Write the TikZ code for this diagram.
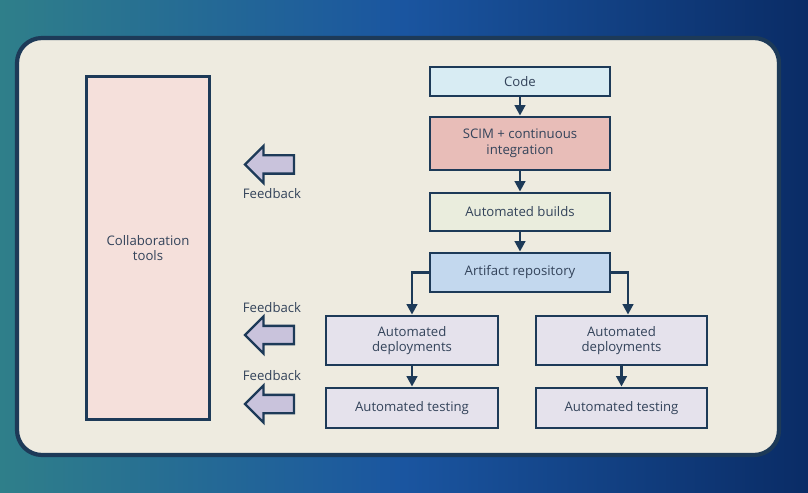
\documentclass[tikz,border=0pt]{standalone}
\usepackage{fontspec}
\setmainfont{Open Sans}
\usetikzlibrary{arrows.meta,shapes.arrows}

\definecolor{bgteal}{HTML}{2F7F8A}
\definecolor{bgblue}{HTML}{1A55A0}
\definecolor{bgnavy}{HTML}{0A2C66}
\definecolor{panel}{HTML}{EEEBE0}
\definecolor{edge}{HTML}{1D3A58}
\definecolor{txt}{HTML}{33435A}
\definecolor{collab}{HTML}{F5E0DB}
\definecolor{codefill}{HTML}{D8ECF3}
\definecolor{scimfill}{HTML}{E8BDB8}
\definecolor{buildfill}{HTML}{EAEDDD}
\definecolor{artfill}{HTML}{C3D8EE}
\definecolor{deployfill}{HTML}{E5E2EC}
\definecolor{fbfill}{HTML}{C9C3DC}

\begin{document}
\begin{tikzpicture}[x=0.02cm,y=-0.02cm,
    font=\fontsize{7.5}{9}\selectfont,
    stagebox/.style={draw=edge,line width=1.6pt,text=txt,align=center,
      minimum width=3.6cm,inner sep=1pt},
    flow/.style={draw=edge,line width=1.6pt,-{Triangle[length=6pt,width=6pt]}},
    fbarrow/.style={single arrow,shape border rotate=180,draw=edge,fill=fbfill,
      line width=1.3pt,minimum height=0.98cm,single arrow head extend=0.19cm,
      inner xsep=0pt,inner ysep=0.16cm},
    fblabel/.style={text=txt}]
  \useasboundingbox (0,0) rectangle (808,493);
  % backdrop
  \shade[left color=bgteal,right color=bgnavy,middle color=bgblue] (0,0) rectangle (808,493);
  \fill[panel,draw=edge,line width=2.4pt,rounded corners=0.5cm] (17,38) rectangle (779,455);

  % collaboration column
  \node[stagebox,fill=collab,minimum width=2.46cm,minimum height=6.86cm] (collab) at (148,248) {Collaboration\\tools};

  % pipeline
  \node[stagebox,fill=codefill,minimum height=0.58cm] (code) at (520,81.5) {Code};
  \node[stagebox,fill=scimfill,minimum height=1.06cm] (scim) at (520,143.5) {SCIM + continuous\\integration};
  \node[stagebox,fill=buildfill,minimum height=0.76cm] (build) at (520,212) {Automated builds};
  \node[stagebox,fill=artfill,minimum height=0.78cm] (art) at (520,272.5) {Artifact repository};
  \node[stagebox,fill=deployfill,minimum width=3.44cm,minimum height=0.98cm] (depl) at (412,340.5) {Automated\\deployments};
  \node[stagebox,fill=deployfill,minimum width=3.42cm,minimum height=0.98cm] (depr) at (621.5,340.5) {Automated\\deployments};
  \node[stagebox,fill=deployfill,minimum width=3.44cm,minimum height=0.8cm] (testl) at (412,408) {Automated testing};
  \node[stagebox,fill=deployfill,minimum width=3.42cm,minimum height=0.8cm] (testr) at (621.5,408) {Automated testing};

  \draw[flow] (code) -- (scim);
  \draw[flow] (scim) -- (build);
  \draw[flow] (build) -- (art);
  \draw[flow] (art.west) -| (depl.north);
  \draw[flow] (art.east) -| ([xshift=0.13cm]depr.north);
  \draw[flow] (depl) -- (testl);
  \draw[flow] (depr) -- (testr);

  % feedback
  \node[fbarrow] (fb1) at (274,164.5) {};
  \node[fblabel] (fbt1) at (272,194) {Feedback};
  \node[fblabel] (fbt2) at (272,308) {Feedback};
  \node[fbarrow] (fb2) at (274,335) {};
  \node[fblabel] (fbt3) at (272,376) {Feedback};
  \node[fbarrow] (fb3) at (274,404) {};
\end{tikzpicture}
\end{document}
